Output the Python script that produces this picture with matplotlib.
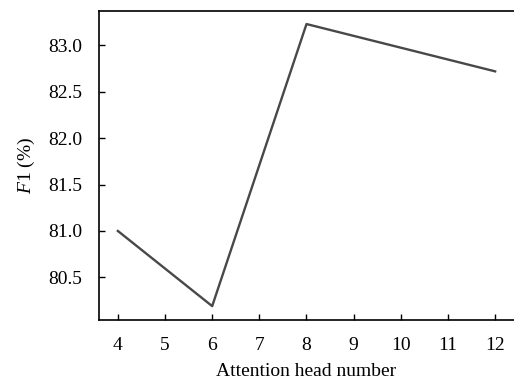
import matplotlib
matplotlib.use('Agg')
import matplotlib.pyplot as plt

plt.rcParams['font.family'] = ['Liberation Serif', 'DejaVu Serif']
plt.rcParams['mathtext.fontset'] = 'custom'
plt.rcParams['mathtext.it'] = 'Liberation Serif:italic'
plt.rcParams['mathtext.rm'] = 'Liberation Serif'

# 注意力头数与F1
heads = [4, 6, 8, 12]
f1 = [81.0, 80.19, 83.23, 82.72]
x_ticks = [4, 5, 6, 7, 8, 9, 10, 11, 12]
y_ticks = [80.5, 81.0, 81.5, 82.0, 82.5, 83.0]

fig = plt.figure(figsize=(5.14, 3.81), dpi=100)
ax = fig.add_axes([0.1926, 0.160, 0.8074, 0.811])

ax.plot(heads, f1, color='#484848', linewidth=1.7)

ax.set_xlim(3.6, 12.4)
ax.set_ylim(80.04, 83.37)
ax.set_xticks(x_ticks)
ax.set_yticks(y_ticks)
ax.set_yticklabels([f'{v:.1f}' for v in y_ticks])

ax.spines['right'].set_visible(False)
for s in ['left', 'bottom', 'top']:
    ax.spines[s].set_linewidth(1.2)
ax.tick_params(direction='in', length=4, width=1.0, labelsize=14)
ax.tick_params(axis='x', pad=12)
ax.tick_params(axis='y', pad=12)

ax.set_xlabel('Attention head number', fontsize=14, labelpad=7)
ax.set_ylabel('$F$1 (%)', fontsize=14, labelpad=8)

fig.savefig('out.png', dpi=100)
